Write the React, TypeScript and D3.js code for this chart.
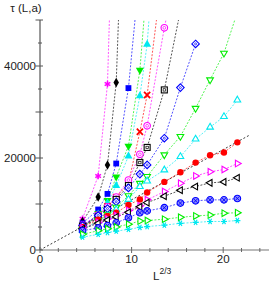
import { useEffect, useRef } from 'react';
import * as d3 from 'd3';

// system sizes L (x axis is L^(2/3))
const sizesL = [10, 16, 20, 24, 30, 36, 40, 50, 60, 70, 80, 90, 100];

// tau(L,a) per series, null = no point; values above 50000 lie off the top
const tauMagStar = [6800, 16100, 36100, 100000, null, null, null, null, null, null, null, null, null];
const tauBlkDiamond = [6200, 11500, 18500, 36400, 110000, null, null, null, null, null, null, null, null];
const tauBluSquare = [5800, 8800, 12200, 18800, 35200, 61000, null, null, null, null, null, null, null];
const tauGrnTriDown = [4600, 8000, 10800, 15900, 22600, 39100, 58500, null, null, null, null, null, null];
const tauCynTriUp = [5000, 7800, 10200, 14000, 20400, 33500, 44700, 95000, null, null, null, null, null];
const tauRedTimes = [5200, 7500, 9500, 11500, 14500, 25700, 33700, 63700, null, null, null, null, null];
const tauMagCircle = [5400, 7600, 9400, 11500, 15200, 20800, 27000, 48300, 65000, null, null, null, null];
const tauBlkSquare = [5200, 7200, 8800, 11000, 14000, 19000, 22300, 34800, 52000, null, null, null, null];
const tauBluDiamond = [5300, 7500, 9000, 10500, 13500, 16500, 18500, 24300, 35300, 44800, null, null, null];
const tauGrnTriDownO = [4400, 6400, 7800, 9300, 11800, 14500, 16000, 20700, 24700, 30800, 37000, 42800, 51700];
const tauCynTriUpO = [4300, 6200, 7400, 8800, 11000, 13800, 15000, 17400, 20300, 24100, 26700, 29000, 32600];
const tauRedCircle = [5000, 6600, 7400, 8100, 9800, 11000, 12500, 14800, 16900, 19000, 20600, 21200, 23400];
const tauMagTriRight = [4800, 6000, 6800, 7500, 8600, 9600, 10900, 12700, 14500, 16100, 17000, 17500, 18800];
const tauBlkTriLeft = [4600, 5800, 6500, 7200, 8200, 9400, 10300, 11700, 13000, 13800, 14600, 14800, 15700];
const tauBluCircleX = [4200, 4800, 5300, 5900, 7000, 8100, 8500, 9200, 10200, 10700, 10900, 10900, 11200];
const tauGrnTriRight = [3400, 4200, 4600, 5000, 5600, 6300, 6400, 6700, 7100, 7400, 7600, 8000, 8100];
const tauCynTimes = [2800, 3400, 3800, 4100, 4500, 4900, 5100, 5400, 5800, 6000, 6200, 6200, 6400];

// linear fit through the origin
const fitX = [0, 22.9];
const fitY = [0, 25000];

const xMinorTicks = [0, 2, 4, 6, 8, 10, 12, 14, 16, 18, 20, 22, 24];
const xLabelTicks = [0, 10, 20];
const yMinorTicks = [0, 5000, 10000, 15000, 20000, 25000, 30000, 35000, 40000, 45000, 50000];
const yLabelTicks = [0, 20000, 40000];

const series = [
  { values: tauMagStar, color: '#ff00ff', marker: 'star' },
  { values: tauBlkDiamond, color: '#000000', marker: 'diamondF' },
  { values: tauBluSquare, color: '#0000ff', marker: 'squareF' },
  { values: tauGrnTriDown, color: '#00ee00', marker: 'triDownF' },
  { values: tauCynTriUp, color: '#00e8f0', marker: 'triUpF' },
  { values: tauRedTimes, color: '#ff0000', marker: 'times' },
  { values: tauMagCircle, color: '#ff00ff', marker: 'circleO' },
  { values: tauBlkSquare, color: '#000000', marker: 'squareO' },
  { values: tauBluDiamond, color: '#0000ff', marker: 'diamondO' },
  { values: tauGrnTriDownO, color: '#00ee00', marker: 'triDownO' },
  { values: tauCynTriUpO, color: '#00e8f0', marker: 'triUpO' },
  { values: tauRedCircle, color: '#ff0000', marker: 'circleF' },
  { values: tauMagTriRight, color: '#ff00ff', marker: 'triRightO' },
  { values: tauBlkTriLeft, color: '#000000', marker: 'triLeftO' },
  { values: tauBluCircleX, color: '#0000ff', marker: 'circleX' },
  { values: tauGrnTriRight, color: '#00ee00', marker: 'triRightO' },
  { values: tauCynTimes, color: '#00e8f0', marker: 'timesBar' },
];

function drawMarker(g: any, kind: string, color: string) {
  const sym = (type: any, size: number) => d3.symbol().type(type).size(size)();
  switch (kind) {
    case 'star':
      g.append('path').attr('d', sym(d3.symbolAsterisk, 30)).attr('fill', 'none').attr('stroke', color).attr('stroke-width', 1.5);
      break;
    case 'diamondF':
      g.append('path').attr('d', sym(d3.symbolDiamond, 26)).attr('fill', color);
      break;
    case 'squareF':
      g.append('path').attr('d', sym(d3.symbolSquare, 34)).attr('fill', color);
      break;
    case 'triDownF':
      g.append('path').attr('d', sym(d3.symbolTriangle, 28)).attr('transform', 'rotate(180)').attr('fill', color);
      break;
    case 'triUpF':
      g.append('path').attr('d', sym(d3.symbolTriangle, 28)).attr('fill', color);
      break;
    case 'times':
      g.append('path').attr('d', sym(d3.symbolTimes, 26)).attr('fill', 'none').attr('stroke', color).attr('stroke-width', 1.8);
      break;
    case 'circleO':
      g.append('circle').attr('r', 3.3).attr('fill', 'white').attr('stroke', color).attr('stroke-width', 1.1);
      g.append('circle').attr('r', 1.4).attr('fill', 'none').attr('stroke', color).attr('stroke-width', 0.7);
      break;
    case 'squareO':
      g.append('rect').attr('x', -3).attr('y', -3).attr('width', 6).attr('height', 6)
        .attr('fill', 'white').attr('stroke', color).attr('stroke-width', 1.1);
      g.append('rect').attr('x', -1.2).attr('y', -1.2).attr('width', 2.4).attr('height', 2.4)
        .attr('fill', 'none').attr('stroke', color).attr('stroke-width', 0.7);
      break;
    case 'diamondO':
      g.append('path').attr('d', sym(d3.symbolDiamond2, 36)).attr('fill', 'white').attr('stroke', color).attr('stroke-width', 1.1);
      g.append('circle').attr('r', 1).attr('fill', 'none').attr('stroke', color).attr('stroke-width', 0.7);
      break;
    case 'triDownO':
      g.append('path').attr('d', sym(d3.symbolTriangle2, 32)).attr('transform', 'rotate(180)')
        .attr('fill', 'white').attr('stroke', color).attr('stroke-width', 1.1);
      break;
    case 'triUpO':
      g.append('path').attr('d', sym(d3.symbolTriangle2, 32))
        .attr('fill', 'white').attr('stroke', color).attr('stroke-width', 1.1);
      break;
    case 'triRightO':
      g.append('path').attr('d', sym(d3.symbolTriangle2, 32)).attr('transform', 'rotate(90)')
        .attr('fill', 'white').attr('stroke', color).attr('stroke-width', 1.1);
      break;
    case 'triLeftO':
      g.append('path').attr('d', sym(d3.symbolTriangle2, 32)).attr('transform', 'rotate(-90)')
        .attr('fill', 'white').attr('stroke', color).attr('stroke-width', 1.1);
      break;
    case 'circleF':
      g.append('circle').attr('r', 3.2).attr('fill', color);
      break;
    case 'circleX':
      g.append('circle').attr('r', 3.3).attr('fill', '#8c8cff').attr('stroke', color).attr('stroke-width', 1.1);
      g.append('path').attr('d', sym(d3.symbolTimes, 14)).attr('fill', 'none').attr('stroke', color).attr('stroke-width', 0.9);
      break;
    case 'timesBar':
      g.append('path').attr('d', sym(d3.symbolAsterisk, 26)).attr('transform', 'rotate(90)')
        .attr('fill', 'none').attr('stroke', color).attr('stroke-width', 1.2);
      break;
  }
}

export default function App() {
  const svgRef = useRef<SVGSVGElement>(null);

  useEffect(() => {
    if (!svgRef.current) return;
    const width = 273;
    const height = 286;

    d3.select(svgRef.current).selectAll('*').remove();
    const svg = d3.select(svgRef.current).attr('width', width).attr('height', height);

    const xScale = d3.scaleLinear().domain([0, 25]).range([40, 269]);
    const yScale = d3.scaleLinear().domain([0, 50000]).range([250, 20]);
    const xOf = (L: number) => xScale(Math.pow(L, 2 / 3));

    svg.append('defs').append('clipPath').attr('id', 'plot-clip')
      .append('rect')
      .attr('x', xScale(0)).attr('y', yScale(50000))
      .attr('width', xScale(25) - xScale(0)).attr('height', yScale(0) - yScale(50000));

    const plot = svg.append('g').attr('clip-path', 'url(#plot-clip)');

    // fit line
    const fitLine = d3.line<number>()
      .x((_, i) => xScale(fitX[i]))
      .y(d => yScale(d));
    plot.append('path')
      .datum(fitY)
      .attr('fill', 'none')
      .attr('stroke', '#000')
      .attr('stroke-width', 0.9)
      .attr('stroke-dasharray', '2,2')
      .attr('opacity', 0.85)
      .attr('d', fitLine);

    // series lines
    series.forEach(s => {
      const pts = sizesL
        .map((L, i) => ({ L, v: s.values[i] }))
        .filter(p => p.v !== null) as { L: number; v: number }[];
      const line = d3.line<{ L: number; v: number }>()
        .x(d => xOf(d.L))
        .y(d => yScale(d.v));
      plot.append('path')
        .datum(pts)
        .attr('fill', 'none')
        .attr('stroke', s.color)
        .attr('stroke-width', 0.9)
        .attr('stroke-dasharray', '2,1.5')
        .attr('opacity', 0.75)
        .attr('d', line);
    });

    // markers
    series.forEach(s => {
      sizesL.forEach((L, i) => {
        const v = s.values[i];
        if (v === null || v > 50000) return;
        const g = plot.append('g').attr('transform', `translate(${xOf(L)},${yScale(v)})`);
        drawMarker(g, s.marker, s.color);
      });
    });

    // axes
    const axisColor = '#555';
    svg.append('line')
      .attr('x1', xScale(0)).attr('x2', xScale(25))
      .attr('y1', yScale(0)).attr('y2', yScale(0))
      .attr('stroke', '#777').attr('stroke-width', 1.2);
    svg.append('line')
      .attr('x1', xScale(0)).attr('x2', xScale(0))
      .attr('y1', yScale(0)).attr('y2', yScale(50000))
      .attr('stroke', axisColor).attr('stroke-width', 1.2);

    svg.append('g').selectAll('line')
      .data(xMinorTicks)
      .join('line')
      .attr('x1', d => xScale(d)).attr('x2', d => xScale(d))
      .attr('y1', d => yScale(0) - (xLabelTicks.includes(d) ? 3 : 2))
      .attr('y2', d => yScale(0) + (xLabelTicks.includes(d) ? 3 : 2))
      .attr('stroke', '#666').attr('stroke-width', 1);

    svg.append('g').selectAll('line')
      .data(yMinorTicks)
      .join('line')
      .attr('y1', d => yScale(d)).attr('y2', d => yScale(d))
      .attr('x1', d => xScale(0) - (d % 10000 === 0 ? 4.5 : 2))
      .attr('x2', d => xScale(0) + (d % 10000 === 0 ? 3 : 2))
      .attr('stroke', axisColor).attr('stroke-width', 1);

    const font = 'Liberation Sans, Arial, sans-serif';

    svg.append('g').selectAll('text')
      .data(xLabelTicks)
      .join('text')
      .attr('x', d => xScale(d))
      .attr('y', 262.5)
      .attr('text-anchor', 'middle')
      .style('font-family', font)
      .style('font-size', '11.5px')
      .style('fill', '#222')
      .text(d => String(d));

    svg.append('g').selectAll('text')
      .data(yLabelTicks)
      .join('text')
      .attr('x', 36)
      .attr('y', d => yScale(d) + 4)
      .attr('text-anchor', 'end')
      .style('font-family', font)
      .style('font-size', '11.5px')
      .style('fill', '#222')
      .text(d => String(d));

    // axis titles
    svg.append('text')
      .attr('x', 26)
      .attr('y', 12)
      .attr('text-anchor', 'middle')
      .style('font-family', font)
      .style('font-size', '11.5px')
      .style('fill', '#222')
      .text('τ (L,a)');

    const xt = svg.append('text')
      .attr('x', 153)
      .attr('y', 280)
      .style('font-family', font)
      .style('font-size', '11.5px')
      .style('fill', '#222');
    xt.append('tspan').text('L');
    xt.append('tspan').attr('dy', -6.5).style('font-size', '8.5px').text('2/3');
  }, []);

  return (
    <div style={{ position: 'absolute', left: 0, top: 0 }}>
      <svg ref={svgRef}></svg>
    </div>
  );
}
